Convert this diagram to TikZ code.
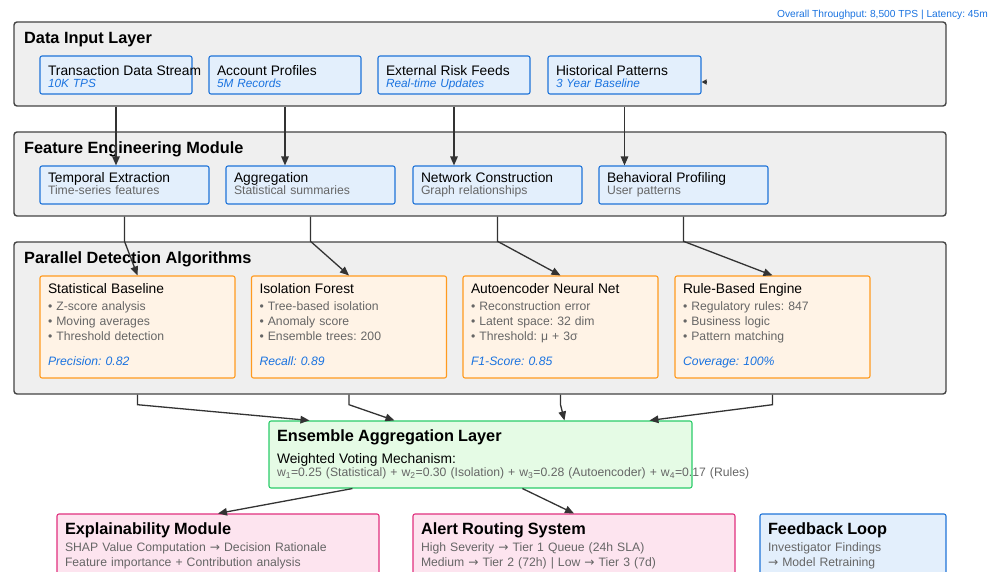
\documentclass[tikz,border=0pt]{standalone}
\usepackage{fontspec}
\setmainfont{Liberation Sans}
\newfontfamily\arrowfont{DejaVu Sans}
\usetikzlibrary{arrows.meta}
\frenchspacing

\definecolor{layerfill}{HTML}{EFEFEF}
\definecolor{layerline}{HTML}{444444}
\definecolor{bluefill}{HTML}{E3EFFC}
\definecolor{blueline}{HTML}{1F74D8}
\definecolor{bluetext}{HTML}{1A73E0}
\definecolor{orangefill}{HTML}{FFF3E6}
\definecolor{orangeline}{HTML}{FF9A1F}
\definecolor{greenfill}{HTML}{E5FBE5}
\definecolor{greenline}{HTML}{2BCC6A}
\definecolor{pinkfill}{HTML}{FDE4EF}
\definecolor{pinkline}{HTML}{E0307E}
\definecolor{greytext}{HTML}{666666}
\definecolor{arrowline}{HTML}{333333}

\tikzset{
  layer/.style={draw=layerline, line width=1.4pt, fill=layerfill, rounded corners=3pt, minimum width=932pt},
  layertitle/.style={anchor=west, inner sep=0pt, font=\bfseries\fontsize{16.3}{18}\selectfont},
  bluebox/.style={draw=blueline, line width=1.1pt, fill=bluefill, rounded corners=2pt, minimum height=38pt,
    inner xsep=8pt, inner ysep=0pt, align=left},
  srcbox/.style={bluebox, font=\fontsize{11.8}{12}\selectfont, execute at begin node=\rule{0pt}{17pt},
    execute at end node=\strut},
  featbox/.style={bluebox, font=\fontsize{12.2}{12}\selectfont, text=greytext, execute at end node=\strut},
  algbox/.style={draw=orangeline, line width=1.1pt, fill=orangefill, rounded corners=2pt, minimum height=102pt,
    text width=179pt, inner xsep=8pt, inner ysep=0pt, align=left, text=greytext, font=\fontsize{12.2}{15}\selectfont,
    execute at end node=\strut},
  ensbox/.style={draw=greenline, line width=1.1pt, fill=greenfill, rounded corners=2pt, minimum height=67pt,
    text width=407pt, inner xsep=8pt, inner ysep=0pt, align=left, font=\fontsize{12.2}{13}\selectfont},
  outbox/.style={draw=pinkline, line width=1.1pt, fill=pinkfill, rounded corners=2pt, minimum height=63pt,
    text width=306pt, inner xsep=8pt, inner ysep=0pt, align=left, text=greytext, font=\fontsize{12.2}{15}\selectfont},
  loopbox/.style={outbox, draw=blueline, fill=bluefill, text width=170pt},
  flow/.style={draw=arrowline, line width=1.3pt, ->}
}
\newcommand{\headfont}{\color{black}\fontsize{13.8}{14}\selectfont}
\newcommand{\bighead}{\color{black}\bfseries\fontsize{16.3}{18}\selectfont}
\newcommand{\metric}[1]{{\color{bluetext}\itshape #1}}
\newcommand{\goesto}{{\arrowfont →}}

\begin{document}
\begin{tikzpicture}[x=1pt, y=-1pt, >={Stealth[length=9pt,width=7.5pt,inset=0pt]}]
\useasboundingbox (0,0) rectangle (997,572);

\node[anchor=east, inner sep=0pt, text=bluetext, font=\fontsize{10.2}{11}\selectfont] (thr) at (988,14.5)
  {Overall Throughput: 8,500 TPS | Latency: 45m};

% layers
\node[layer, minimum height=84pt] (lay1) at (480,64) {};
\node[layer, minimum height=84pt] (lay2) at (480,174) {};
\node[layer, minimum height=152pt] (lay3) at (480,318) {};
\node[layertitle] (ttl1) at (24,39.5) {Data Input Layer};
\node[layertitle] (ttl2) at (24,149.5) {Feature Engineering Module};
\node[layertitle] (ttl3) at (24,259) {Parallel Detection Algorithms};

% data sources
\node[srcbox, text width=136pt] (src1) at (116,75) {\mbox{\headfont Transaction Data Stream}\\\metric{10K TPS}};
\node[srcbox, text width=136pt] (src2) at (285,75) {{\headfont Account Profiles}\\\metric{5M Records}};
\node[srcbox, text width=136pt] (src3) at (454,75) {{\headfont External Risk Feeds}\\\metric{Real-time Updates}};
\node[srcbox, text width=137pt] (src4) at (624.5,75) {{\headfont Historical Patterns}\\\metric{3 Year Baseline}};

% features
\node[featbox, text width=153pt] (fe1) at (124.5,185) {{\headfont Temporal Extraction}\\Time-series features};
\node[featbox, text width=153pt] (fe2) at (310.5,185) {{\headfont Aggregation}\\Statistical summaries};
\node[featbox, text width=153pt] (fe3) at (497.5,185) {{\headfont Network Construction}\\Graph relationships};
\node[featbox, text width=153pt] (fe4) at (683.5,185) {{\headfont Behavioral Profiling}\\User patterns};

% detectors
\node[algbox] (alg1) at (137.5,327) {{\headfont Statistical Baseline}\\[2pt]
  • Z-score analysis\\ • Moving averages\\ • Threshold detection\\[10pt] \metric{Precision: 0.82}};
\node[algbox] (alg2) at (349,327) {{\headfont Isolation Forest}\\[2pt]
  • Tree-based isolation\\ • Anomaly score\\ • Ensemble trees: 200\\[10pt] \metric{Recall: 0.89}};
\node[algbox] (alg3) at (560.5,327) {{\headfont Autoencoder Neural Net}\\[2pt]
  • Reconstruction error\\ • Latent space: 32 dim\\ • Threshold: μ + 3σ\\[10pt] \metric{F1-Score: 0.85}};
\node[algbox] (alg4) at (772.5,327) {{\headfont Rule-Based Engine}\\[2pt]
  • Regulatory rules: 847\\ • Business logic\\ • Pattern matching\\[10pt] \metric{Coverage: 100\%}};

% ensemble
\node[ensbox] (ens) at (480.5,454.5) {{\bighead Ensemble Aggregation Layer}\\[7pt]
  {\headfont Weighted Voting Mechanism:}\\
  \mbox{\color{greytext}w\textsubscript{1}=0.25 (Statistical) + w\textsubscript{2}=0.30 (Isolation) + w\textsubscript{3}=0.28 (Autoencoder) + w\textsubscript{4}=0.17 (Rules)}};

% outputs
\node[outbox] (expl) at (218,545.5) {{\bighead Explainability Module}\\[2pt]
  SHAP Value Computation \goesto{} Decision Rationale\\ Feature importance + Contribution analysis};
\node[outbox] (route) at (574,545.5) {{\bighead Alert Routing System}\\[2pt]
  High Severity \goesto{} Tier 1 Queue (24h SLA)\\ Medium \goesto{} Tier 2 (72h) | Low \goesto{} Tier 3 (7d)};
\node[loopbox] (fbk) at (853,545.5) {{\bighead Feedback Loop}\\[2pt]
  Investigator Findings\\ \goesto{} Model Retraining};

% connectors
\draw[flow] (src1 |- lay1.south) -- (src1 |- fe1.north);
\draw[flow] (src2 |- lay1.south) -- (src2 |- fe2.north);
\draw[flow] (src3 |- lay1.south) -- (src3 |- fe3.north);
\draw[flow] (src4 |- lay1.south) -- (src4 |- fe4.north);
\coordinate (fbin) at (706,82);
\draw[flow, -{Stealth[length=5pt,width=5pt,inset=0pt]}] (fbin) -- (src4.east |- fbin);

\draw[flow] (fe1 |- lay2.south) -- (fe1 |- lay3.north) -- (alg1.north);
\draw[flow] (fe2 |- lay2.south) -- (fe2 |- lay3.north) -- (alg2.north);
\draw[flow] (fe3 |- lay2.south) -- (fe3 |- lay3.north) -- (alg3.north);
\draw[flow] (fe4 |- lay2.south) -- (fe4 |- lay3.north) -- (alg4.north);

\draw[flow] (alg1 |- lay3.south) -- ++(0,10) -- ([xshift=41pt]ens.north west);
\draw[flow] (alg2 |- lay3.south) -- ++(0,10) -- ([xshift=126pt]ens.north west);
\draw[flow] (alg3 |- lay3.south) -- ++(0,10) -- ([xshift=296pt]ens.north west);
\draw[flow] (alg4 |- lay3.south) -- ++(0,10) -- ([xshift=381pt]ens.north west);

\draw[flow] ([xshift=84pt]ens.south west) -- (expl.north);
\draw[flow] ([xshift=254pt]ens.south west) -- (route.north);
\end{tikzpicture}
\end{document}
